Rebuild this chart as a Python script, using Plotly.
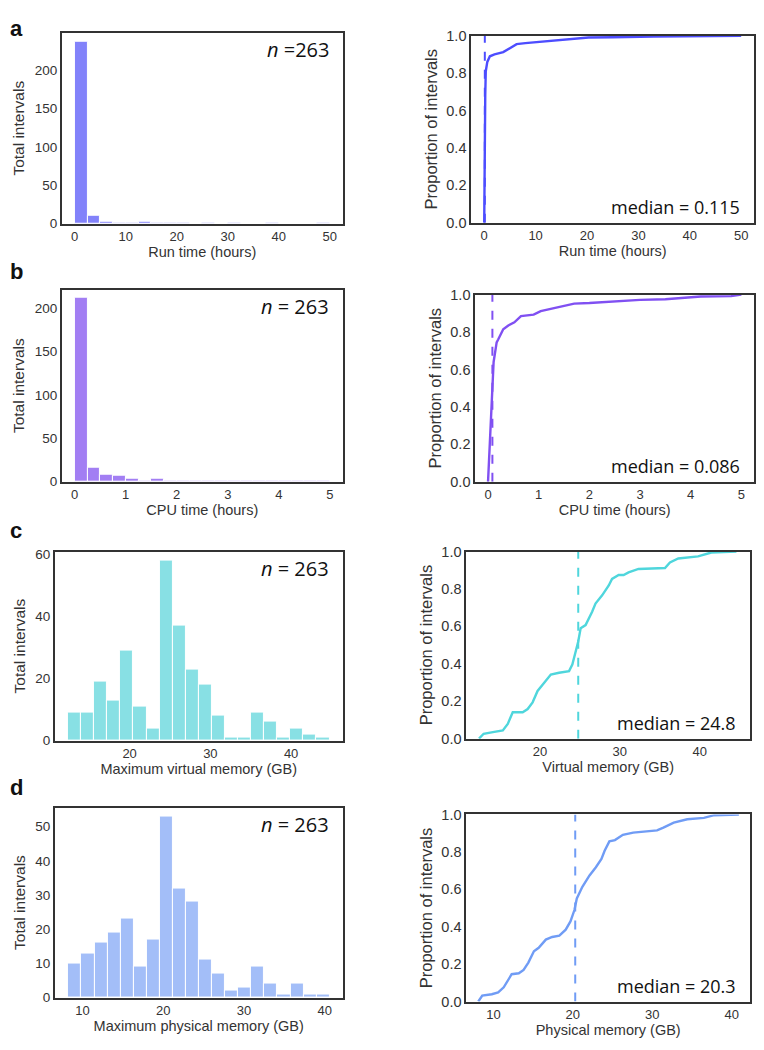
import numpy as np
import plotly.graph_objects as go

# histogram counts, 20 equal bins between the edges below
run_counts = [237, 10, 3, 1, 1, 2, 1, 1, 1, 0, 1, 0, 1, 0, 0, 1, 0, 0, 0, 1]
cpu_counts = [212, 16, 8, 7, 3, 1, 3, 1, 1, 1, 1, 1, 1, 1, 1, 1, 1, 1, 1, 1]
vmem_counts = [9, 9, 19, 13, 29, 11, 4, 58, 37, 23, 18, 8, 1, 1, 9, 6, 1, 4, 2, 1]
pmem_counts = [10, 13, 16, 19, 23, 9, 17, 53, 32, 28, 11, 7, 2, 3, 9, 4, 1, 4, 1, 1]

run_range = (0.0, 50.0)
cpu_range = (0.0, 5.0)
vmem_range = (12.37, 44.75)
pmem_range = (8.26, 40.6)

# cumulative curves, points
run_cdf_x = [0.0, 0.02, 0.06, 0.115, 0.2, 0.3, 0.6, 1.1, 2.0, 3.7, 5.0, 6.3, 8.0, 10.2, 13.0, 16.7, 20.3, 25.0, 33.0, 50.0]
run_cdf_y = [0.0, 0.15, 0.35, 0.5, 0.68, 0.81, 0.86, 0.89, 0.9, 0.912, 0.935, 0.955, 0.96, 0.965, 0.972, 0.98, 0.99, 0.992, 0.996, 1.0]

cpu_cdf_x = [0.0, 0.04, 0.077, 0.086, 0.11, 0.135, 0.17, 0.2, 0.3, 0.4, 0.52, 0.65, 0.78, 0.9, 1.04, 1.27, 1.55, 1.7, 2.0, 2.35, 3.0, 3.5, 3.9, 4.2, 4.8, 5.0]
cpu_cdf_y = [0.0, 0.2, 0.43, 0.5, 0.64, 0.68, 0.745, 0.76, 0.815, 0.835, 0.852, 0.885, 0.89, 0.893, 0.912, 0.925, 0.94, 0.952, 0.955, 0.962, 0.972, 0.975, 0.985, 0.99, 0.992, 1.0]

vmem_cdf_x = [12.38, 12.96, 14.12, 15.36, 15.98, 16.6, 17.85, 18.47, 19.09, 19.71, 20.54, 21.37, 22.4, 23.65, 24.06, 24.47, 24.8, 25.1, 25.72, 26.54, 26.96, 27.79, 28.62, 29.03, 29.86, 30.48, 31.1, 32.34, 35.24, 35.66, 36.28, 37.32, 39.8, 40.84, 41.46, 44.6]
vmem_cdf_y = [0.0, 0.026, 0.035, 0.044, 0.079, 0.141, 0.141, 0.158, 0.194, 0.255, 0.299, 0.343, 0.352, 0.361, 0.396, 0.467, 0.519, 0.59, 0.607, 0.678, 0.722, 0.766, 0.819, 0.854, 0.875, 0.875, 0.889, 0.907, 0.91, 0.912, 0.942, 0.963, 0.974, 0.986, 0.995, 1.0]

pmem_cdf_x = [8.1, 8.6, 9.8, 10.6, 11.3, 11.9, 12.3, 13.2, 13.8, 14.4, 15.1, 15.7, 16.6, 17.4, 18.3, 19.1, 19.7, 20.2, 20.5, 21.2, 22.1, 22.9, 23.6, 24.0, 24.6, 25.3, 26.3, 27.6, 30.6, 31.4, 32.7, 34.4, 36.5, 37.8, 40.9]
pmem_cdf_y = [0.0, 0.032, 0.039, 0.049, 0.076, 0.12, 0.146, 0.151, 0.169, 0.208, 0.269, 0.287, 0.331, 0.345, 0.352, 0.384, 0.428, 0.489, 0.551, 0.613, 0.674, 0.718, 0.762, 0.806, 0.856, 0.863, 0.891, 0.903, 0.915, 0.93, 0.956, 0.974, 0.982, 0.996, 1.0]

medians = [0.115, 0.086, 24.8, 20.3]
median_labels = ["0.115", "0.086", "24.8", "20.3"]
n_labels = ["<i>n</i> =263", "<i>n</i> = 263", "<i>n</i> = 263", "<i>n</i> = 263"]

# the page body has an 8px margin, so the figure is drawn inside it
OFF = 8
FW, FH = 764 - 2 * OFF, 1050 - 2 * OFF
FAMILY = "Liberation Sans, Arial"
ANNOT_FONT = "Open Sans, Noto Sans"


def px(x):
    return min(max((x - OFF) / FW, 0.0), 1.0)


def py(y):
    return min(max(1 - (y - OFF) / FH, 0.0), 1.0)


panels = [
    dict(counts=run_counts, rng=run_range, cdf_x=run_cdf_x, cdf_y=run_cdf_y,
         bar="#8282fa", line="#4d4dff",
         hx="Run time (hours)", cx="Run time (hours)",
         hbox=(62, 343, 25, 219), cbox=(472, 755, 28, 218),
         xr=[-2.5, 52.5], yr=[0, 249], xt=[0, 10, 20, 30, 40, 50], yt=[0, 50, 100, 150, 200],
         cxr=[-2.5, 52.5], cxt=[0, 10, 20, 30, 40, 50], letter="a", ly=21),
    dict(counts=cpu_counts, rng=cpu_range, cdf_x=cpu_cdf_x, cdf_y=cpu_cdf_y,
         bar="#a27ef3", line="#8050f2",
         hx="CPU time (hours)", cx="CPU time (hours)",
         hbox=(62, 343, 286, 481), cbox=(476, 755, 291, 481),
         xr=[-0.25, 5.25], yr=[0, 221.5], xt=[0, 1, 2, 3, 4, 5], yt=[0, 50, 100, 150, 200],
         cxr=[-0.25, 5.25], cxt=[0, 1, 2, 3, 4, 5], letter="b", ly=268),
    dict(counts=vmem_counts, rng=vmem_range, cdf_x=vmem_cdf_x, cdf_y=vmem_cdf_y,
         bar="#88e0e4", line="#4fd6dc",
         hx="Maximum virtual memory (GB)", cx="Virtual memory (GB)",
         hbox=(55, 343, 552, 744), cbox=(467, 751, 552, 742),
         xr=[10.75, 46.37], yr=[0, 60.9], xt=[20, 30, 40], yt=[0, 20, 40, 60],
         cxr=[10.8, 46.3], cxt=[20, 30, 40], letter="c", ly=531),
    dict(counts=pmem_counts, rng=pmem_range, cdf_x=pmem_cdf_x, cdf_y=pmem_cdf_y,
         bar="#a3bef8", line="#709cf5",
         hx="Maximum physical memory (GB)", cx="Physical memory (GB)",
         hbox=(55, 343, 812, 1005), cbox=(467, 751, 819, 1009),
         xr=[6.6, 42.2], yr=[0, 55.6], xt=[10, 20, 30, 40], yt=[0, 10, 20, 30, 40, 50],
         cxr=[6.6, 42.3], cxt=[10, 20, 30, 40], letter="d", ly=792),
]

fig = go.Figure()
layout = {}
annotations = []


def axis_style(box, horizontal, rng, tickvals, title, fmt=None, standoff=3, tsize=13, title_size=14.5):
    x0, x1, y0, y1 = box
    if horizontal:
        dom = [px(x0), px(x1)]
    else:
        dom = [py(y1), py(y0)]
    ax = dict(domain=dom, range=rng, tickvals=tickvals, ticks="", showgrid=False, zeroline=False,
              showline=True, mirror=True, linecolor="#333333", linewidth=2,
              tickfont=dict(family=FAMILY, size=tsize, color="#333333"),
              title=dict(text=title, font=dict(family=FAMILY, size=title_size, color="#333333"),
                         standoff=standoff))
    if fmt:
        ax["tickformat"] = fmt
    return ax


for i, p in enumerate(panels):
    hx_id = 2 * i + 1
    cx_id = 2 * i + 2
    hx_name = "x" if hx_id == 1 else f"x{hx_id}"
    hy_name = "y" if hx_id == 1 else f"y{hx_id}"
    cx_name = f"x{cx_id}"
    cy_name = f"y{cx_id}"

    edges = np.linspace(p["rng"][0], p["rng"][1], len(p["counts"]) + 1)
    centers = (edges[:-1] + edges[1:]) / 2
    width = edges[1] - edges[0]

    fig.add_trace(go.Bar(x=centers, y=p["counts"], width=width,
                         marker=dict(color=p["bar"], line=dict(color="white", width=1)),
                         xaxis=hx_name, yaxis=hy_name, showlegend=False))
    fig.add_trace(go.Scatter(x=p["cdf_x"], y=p["cdf_y"], mode="lines", line=dict(color=p["line"], width=2.4),
                             xaxis=cx_name, yaxis=cy_name, showlegend=False))
    fig.add_trace(go.Scatter(x=[medians[i], medians[i]], y=[0, 1], mode="lines",
                             line=dict(color=p["line"], width=2, dash="dash"),
                             xaxis=cx_name, yaxis=cy_name, showlegend=False))

    hk = "" if hx_id == 1 else str(hx_id)
    layout[f"xaxis{hk}"] = axis_style(p["hbox"], True, p["xr"], p["xt"], p["hx"])
    layout[f"xaxis{hk}"]["anchor"] = hy_name
    layout[f"yaxis{hk}"] = axis_style(p["hbox"], False, p["yr"], p["yt"], "Total intervals",
                                      standoff=6, tsize=13.5, title_size=15.5)
    layout[f"yaxis{hk}"]["anchor"] = hx_name
    layout[f"xaxis{cx_id}"] = axis_style(p["cbox"], True, p["cxr"], p["cxt"], p["cx"])
    layout[f"xaxis{cx_id}"]["anchor"] = cy_name
    layout[f"yaxis{cx_id}"] = axis_style(p["cbox"], False, [0, 1], [0, 0.2, 0.4, 0.6, 0.8, 1.0],
                                         "Proportion of intervals", fmt=".1f", standoff=5,
                                         tsize=14.5, title_size=16.5)
    layout[f"yaxis{cx_id}"]["anchor"] = cx_name

    hb = p["hbox"]
    cb = p["cbox"]
    annotations.append(dict(text=n_labels[i], xref="paper", yref="paper",
                            x=px(hb[1] - 12), y=py(hb[2] + 1), xanchor="right", yanchor="top",
                            showarrow=False, font=dict(family=ANNOT_FONT, size=20, color="#111111")))
    annotations.append(dict(text="median = " + median_labels[i], xref="paper", yref="paper",
                            x=px(cb[1] - 12), y=py(cb[3] - 2), xanchor="right", yanchor="bottom",
                            showarrow=False, font=dict(family=ANNOT_FONT, size=18, color="#111111")))
    annotations.append(dict(text="<b>" + p["letter"] + "</b>", xref="paper", yref="paper",
                            x=px(OFF), y=py(p["ly"]), xanchor="left", yanchor="middle",
                            showarrow=False, font=dict(family=FAMILY, size=22, color="#111111")))

fig.update_layout(**layout)
fig.update_layout(width=FW, height=FH, margin=dict(l=0, r=0, t=0, b=0),
                  plot_bgcolor="white", paper_bgcolor="white", bargap=0,
                  annotations=annotations)

fig.write_html("out.html")
